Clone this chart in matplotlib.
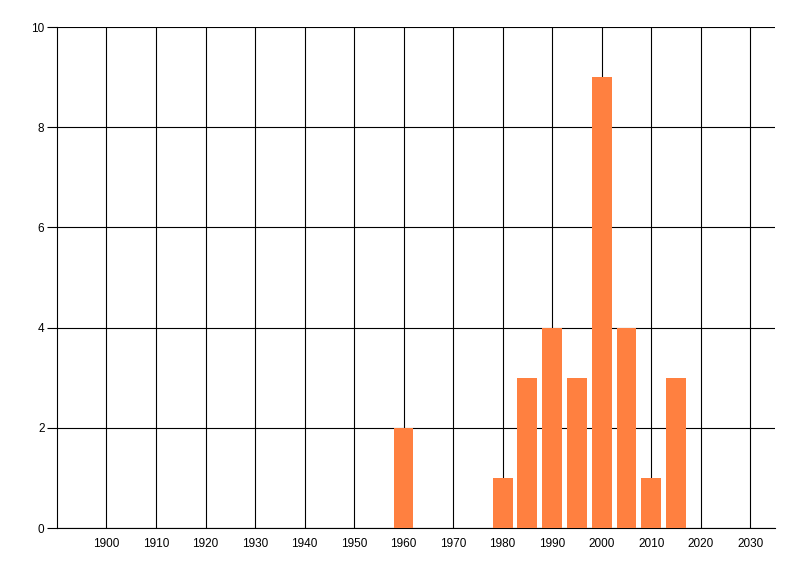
import matplotlib
matplotlib.use("Agg")
import matplotlib.pyplot as plt

# data
years = [1960, 1980, 1985, 1990, 1995, 2000, 2005, 2010, 2015]
counts = [2, 1, 3, 4, 3, 9, 4, 1, 3]
xticks = list(range(1900, 2031, 10))
yticks = [0, 2, 4, 6, 8, 10]

plt.rcParams["font.family"] = ["Liberation Sans", "DejaVu Sans"]
plt.rcParams["font.size"] = 8.5

fig = plt.figure(figsize=(8, 5.76), dpi=100)
ax = fig.add_axes([0.0712, 0.0833, 0.8975, 0.8697])

ax.bar(years, counts, width=4.0, color="#FF8040", zorder=3)

ax.set_xlim(1890, 2035)
ax.set_ylim(0, 10)
ax.set_xticks(xticks)
ax.set_yticks(yticks)
ax.set_xticklabels([str(t) for t in xticks])

ax.grid(True, color="black", linewidth=0.8, zorder=0)
ax.set_axisbelow(True)
for s in ["top", "right"]:
    ax.spines[s].set_visible(False)
for s in ["left", "bottom"]:
    ax.spines[s].set_linewidth(0.8)
ax.tick_params(axis="x", length=0, pad=7)
ax.tick_params(axis="y", length=7, width=0.8, pad=2)

fig.savefig("out.png", dpi=100)
